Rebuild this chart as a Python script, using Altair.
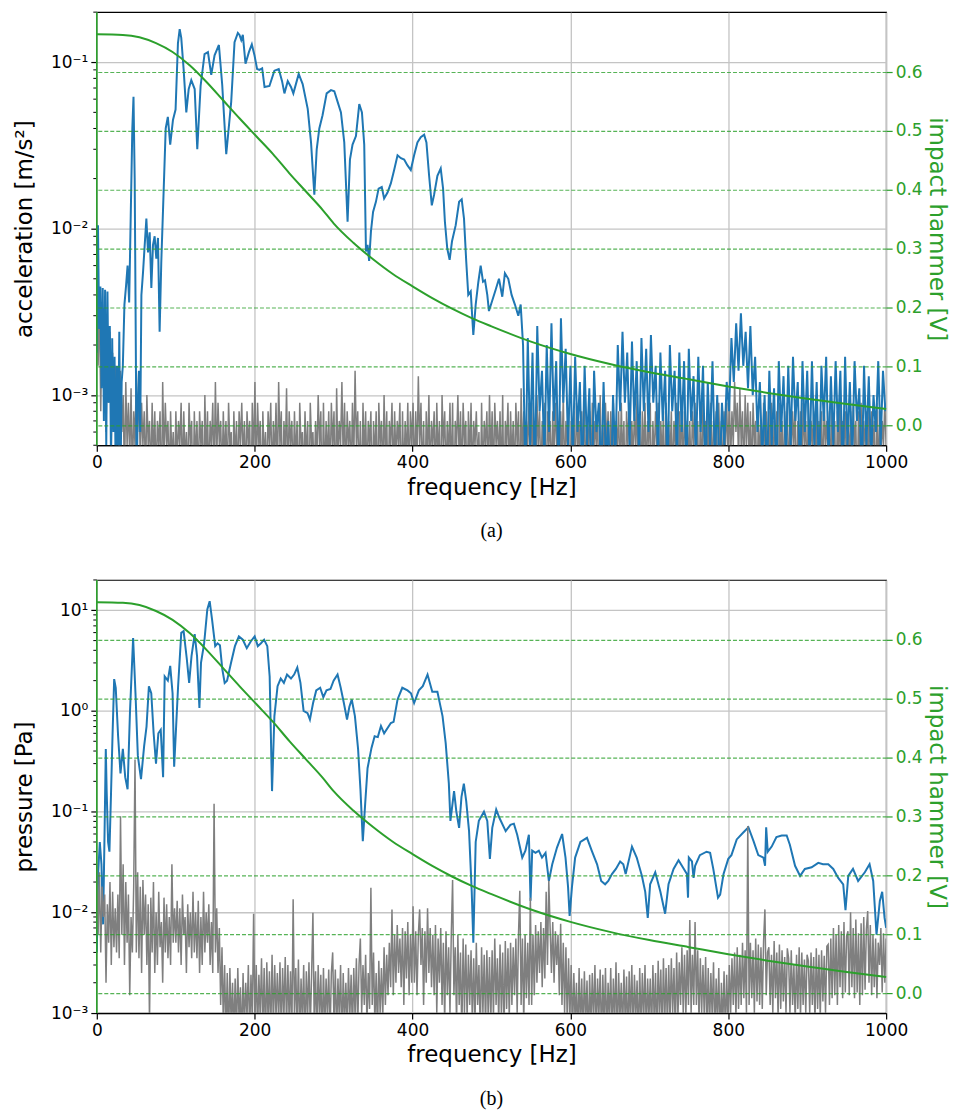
import altair as alt
import numpy as np
import pandas as pd

# ---------------- impact hammer excitation spectrum [V] ----------------
hammer = [(0, 0.664), (33, 0.663), (54, 0.659), (75, 0.649), (96, 0.634), (118, 0.611),
          (139, 0.583), (160, 0.552), (181, 0.521), (202, 0.491), (223, 0.461), (244, 0.428),
          (265, 0.397), (286, 0.366), (300, 0.343), (325, 0.310), (350, 0.282), (375, 0.257),
          (400, 0.236), (425, 0.216), (450, 0.198), (475, 0.182), (500, 0.168), (550, 0.142),
          (600, 0.121), (650, 0.104), (700, 0.090), (750, 0.078), (800, 0.066), (850, 0.055),
          (900, 0.045), (950, 0.036), (1000, 0.0275)]

# ---------------- (a) accelerometer response [m/s^2] ----------------
acc_peaks = [
    (0, 0.0018), (1.5, 0.0105), (3, 0.0025), (4.5, 0.0045), (6, 0.0011), (7.5, 0.0044),
    (9, 0.0007), (10.5, 0.0043), (12, 0.0005), (13.5, 0.0042), (15, 0.0009), (16.5, 0.0026),
    (18, 0.0004), (19.5, 0.0022), (21, 0.0006), (22.5, 0.0017), (24, 0.0003), (25.5, 0.0015),
    (27, 0.0004), (28.5, 0.0024), (30, 0.0003), (31.5, 0.0012), (33, 0.0015), (35, 0.0035),
    (37, 0.0045), (39, 0.006), (41, 0.0036), (43, 0.012), (45, 0.04), (46.5, 0.062),
    (48, 0.02), (49, 0.004), (50.5, 0.0003), (52, 0.0009), (53.5, 0.0014), (55, 0.0006),
    (56.5, 0.004), (58.6, 0.0055), (60.7, 0.008), (62.8, 0.0115), (64.9, 0.0072), (67, 0.0095),
    (69.1, 0.0044), (71.2, 0.008), (73.3, 0.009), (75.4, 0.0066), (77.5, 0.0088), (79.6, 0.0024),
    (81.7, 0.0063), (83.9, 0.013), (87.3, 0.04), (90, 0.047), (93, 0.032), (96.5, 0.045),
    (99.8, 0.052), (102.8, 0.13), (105, 0.158), (107, 0.14), (110, 0.091), (113.4, 0.05),
    (116.4, 0.069), (119.7, 0.078), (124, 0.069), (127.3, 0.03), (131.5, 0.072), (136.5, 0.112),
    (140.8, 0.115), (145, 0.084), (149.2, 0.11), (154.7, 0.127), (158.9, 0.073), (164, 0.028),
    (170.3, 0.058), (174.5, 0.132), (178.7, 0.15), (180.8, 0.146), (183, 0.136), (185, 0.146),
    (188.4, 0.098), (192.7, 0.115), (196.4, 0.128), (199.8, 0.11), (203.1, 0.091), (206, 0.09),
    (209.5, 0.092), (212.5, 0.071), (218.7, 0.072), (225, 0.089), (230.5, 0.091), (234.7, 0.077),
    (237.7, 0.065), (241.9, 0.077), (246, 0.071), (249, 0.065), (255.8, 0.085), (260.8, 0.074),
    (267.2, 0.0525), (271.4, 0.033), (275.6, 0.016), (278.6, 0.030), (281.9, 0.040), (286, 0.048),
    (291.2, 0.065), (296.7, 0.068), (300.9, 0.067), (305, 0.058), (309.3, 0.05), (313.5, 0.033),
    (317.7, 0.011), (320.7, 0.026), (324, 0.032), (328.3, 0.036), (332.5, 0.056), (335.9, 0.05),
    (338.8, 0.032), (341, 0.0073), (343, 0.008), (345, 0.0064), (347.3, 0.0096), (350, 0.0126),
    (353.6, 0.0145), (357, 0.0174), (361, 0.0178), (364, 0.0152), (368.3, 0.0165), (372.5, 0.0187),
    (376.7, 0.0225), (381, 0.0276), (385.3, 0.0265), (389.4, 0.026), (393.6, 0.024), (397.8, 0.0225),
    (402, 0.0276), (406.2, 0.033), (410.4, 0.0355), (414.7, 0.0367), (417.6, 0.033), (421, 0.0208),
    (424.4, 0.0138), (427.3, 0.016), (431.5, 0.0208), (435.7, 0.023), (438.7, 0.0174), (441, 0.011),
    (444, 0.0076), (447, 0.0065), (450, 0.0084), (454.7, 0.0105), (459, 0.0145), (462.3, 0.015),
    (465.2, 0.0115), (468, 0.0064), (470.6, 0.004), (473.7, 0.0042), (477, 0.0023), (480, 0.0035),
    (483.4, 0.0048), (486.3, 0.006), (489.3, 0.0048), (491.8, 0.0049), (494.7, 0.004), (496.8, 0.0032),
    (501, 0.0037), (505.3, 0.0043), (509.5, 0.005), (513.7, 0.0039), (517, 0.0054), (521.3, 0.005),
    (525.5, 0.004), (529.7, 0.0035), (534, 0.003), (537, 0.0035), (540, 0.002), (543, 0.0003),
]
# 546 ... 999 Hz in 3 Hz bins, units of 1e-4 m/s^2
acc_tail_start, acc_tail_step = 546, 3
acc_tail = [
    22, 5, 18, 3, 26, 8, 14, 4, 20, 6,
    27, 7, 16, 3, 29, 9, 19, 5, 15, 4,
    17, 6, 12, 3, 15, 5, 11, 2, 14, 6,
    9, 3, 12, 4, 7, 2, 10, 4, 20, 8,
    24, 9, 18, 5, 21, 7, 16, 4, 22, 8,
    19, 6, 23, 9, 15, 4, 18, 7, 14, 3,
    20, 8, 14, 4, 18, 6, 16, 3, 19, 7,
    13, 4, 17, 6, 15, 3, 12, 5, 16, 4,
    10, 3, 9, 5, 12, 8, 22, 12, 27, 14,
    31, 15, 24, 11, 26, 10, 17, 6, 12, 4,
    10, 3, 14, 5, 11, 3, 16, 6, 13, 4,
    15, 5, 17, 7, 12, 3, 16, 6, 14, 4,
    16, 5, 12, 3, 15, 7, 17, 4, 13, 5,
    16, 6, 14, 3, 17, 5, 12, 4, 16, 7,
    11, 3, 15, 5, 13, 4, 10, 6, 16, 5,
    14, 8,
]
# background noise, 600 bins over 0-1000 Hz (one row = 25 Hz), units of 1e-4 m/s^2
acc_noise = [
    42, 15, 35, 8, 30, 12, 26, 6, 20, 9, 24, 5, 18, 7, 15,
    5, 13, 4, 14, 6, 10, 3, 12, 5, 9, 4, 11, 3, 8, 5,
    14, 6, 11, 4, 9, 5, 8, 3, 10, 5, 7, 3, 9, 4, 8,
    3, 7, 5, 8, 2, 12, 4, 9, 5, 7, 3, 8, 4, 6, 3,
    8, 4, 7, 5, 9, 3, 8, 4, 6, 3, 9, 5, 7, 2, 8,
    4, 7, 3, 8, 5, 7, 2, 10, 4, 8, 3, 7, 5, 9, 3,
    12, 4, 9, 5, 7, 3, 8, 4, 7, 3, 9, 5, 6, 2, 8,
    4, 7, 3, 8, 5, 9, 4, 7, 3, 8, 5, 7, 2, 9, 4,
    12, 3, 9, 5, 7, 2, 8, 4, 6, 3, 8, 5, 9, 3, 7,
    4, 9, 3, 12, 5, 8, 2, 7, 4, 11, 3, 8, 5, 7, 3,
    8, 4, 7, 2, 9, 5, 6, 3, 8, 4, 7, 2, 9, 5, 6,
    3, 7, 4, 10, 5, 8, 2, 9, 3, 7, 4, 8, 3, 9, 5,
    8, 2, 11, 4, 7, 5, 12, 4, 9, 3, 8, 5, 7, 3, 9,
    4, 14, 5, 8, 3, 7, 2, 9, 4, 8, 3, 7, 5, 8, 2,
    7, 4, 8, 2, 9, 5, 7, 3, 10, 4, 8, 2, 7, 5, 9,
    3, 8, 4, 7, 5, 9, 2, 8, 3, 7, 4, 9, 3, 8, 5,
    9, 3, 8, 4, 13, 5, 9, 3, 7, 2, 8, 4, 10, 3, 7,
    5, 8, 3, 9, 4, 7, 2, 10, 5, 8, 3, 7, 4, 9, 3,
    9, 2, 7, 5, 10, 4, 8, 3, 9, 5, 7, 2, 8, 4, 9,
    3, 7, 5, 8, 4, 6, 2, 9, 3, 7, 5, 8, 3, 10, 4,
    8, 3, 9, 5, 7, 4, 8, 3, 10, 2, 7, 5, 9, 3, 8,
    4, 7, 3, 9, 5, 8, 2, 11, 4, 8, 3, 7, 5, 9, 3,
    9, 4, 7, 2, 10, 5, 8, 3, 7, 4, 9, 2, 8, 5, 7,
    3, 8, 4, 9, 5, 7, 2, 8, 4, 10, 3, 7, 5, 8, 2,
    7, 4, 8, 3, 9, 5, 7, 2, 8, 4, 9, 3, 7, 5, 8,
    3, 9, 4, 7, 5, 8, 2, 10, 3, 7, 4, 9, 5, 8, 3,
    8, 4, 9, 2, 7, 5, 8, 3, 9, 4, 7, 2, 8, 5, 9,
    3, 7, 4, 8, 5, 10, 2, 7, 3, 8, 4, 9, 3, 7, 5,
    9, 2, 7, 4, 8, 5, 9, 3, 7, 4, 8, 2, 9, 5, 7,
    4, 8, 3, 7, 5, 9, 2, 8, 4, 10, 3, 8, 5, 7, 4,
    7, 3, 8, 5, 9, 4, 7, 2, 8, 3, 9, 5, 7, 3, 8,
    4, 9, 3, 7, 5, 8, 2, 9, 4, 7, 3, 8, 5, 9, 4,
    10, 4, 8, 5, 12, 6, 9, 4, 11, 5, 8, 3, 10, 5, 9,
    4, 8, 3, 9, 5, 7, 2, 8, 4, 7, 3, 9, 5, 8, 3,
    8, 4, 9, 3, 7, 5, 8, 2, 9, 4, 7, 3, 8, 5, 9,
    3, 7, 4, 8, 5, 9, 2, 7, 4, 8, 3, 9, 5, 7, 3,
    9, 3, 7, 5, 8, 4, 10, 2, 7, 4, 8, 3, 9, 5, 7,
    4, 8, 3, 9, 5, 7, 2, 8, 4, 9, 3, 7, 5, 8, 3,
    7, 4, 8, 3, 9, 5, 7, 2, 8, 4, 9, 3, 7, 5, 8,
    3, 9, 4, 8, 5, 7, 2, 9, 3, 8, 4, 7, 5, 9, 5,
]

# ---------------- (b) microphone response [Pa] ----------------
pres_peaks = [
    (0, 0.004), (1.7, 0.024), (3.8, 0.05), (5.9, 0.03), (8, 0.0076), (10, 0.075), (11.4, 0.42),
    (12.5, 0.16), (14.3, 0.05), (16, 0.04), (18, 0.15), (20, 0.6), (22, 2.07), (24, 1.7),
    (27, 0.56), (30, 0.24), (33, 0.42), (36, 0.22), (39, 0.167), (42, 0.96), (46, 5.3),
    (49, 1.5), (52, 0.36), (56, 0.21), (60, 0.45), (63, 0.7), (66, 1.76), (69, 1.5), (72, 0.6),
    (75, 0.3), (78, 0.6), (81, 0.65), (84, 0.22), (86, 2.2), (90, 2.0), (93, 2.8), (96, 1.5),
    (98, 0.28), (103, 1.76), (107, 5.96), (110, 6.2), (114, 3.3), (117, 1.9), (120, 3.5),
    (124, 5.8), (127, 3.5), (130, 1.07), (132, 3.0), (136, 4.7), (140, 10.2), (143, 12.3),
    (146, 8.1), (150, 4.4), (153, 4.7), (156, 4.5), (159, 2.6), (162, 1.9), (165, 2.0),
    (170, 3.0), (175, 4.4), (180, 5.5), (185, 5.1), (190, 4.2), (195, 4.9), (200, 5.5),
    (204, 4.4), (208, 4.7), (212, 5.1), (216, 4.4), (219, 2.2), (222, 0.16), (225, 0.89),
    (229, 1.76), (233, 2.1), (237, 1.9), (241, 2.3), (246, 2.1), (250, 2.3), (254, 2.7),
    (258, 1.9), (262, 1.0), (267, 0.95), (270, 0.82), (274, 1.2), (278, 1.6), (283, 1.7),
    (287, 1.37), (291, 1.6), (296, 1.65), (300, 2.0), (305, 2.3), (309, 1.7), (313, 1.2),
    (317, 0.82), (320, 1.1), (323, 1.3), (327, 0.89), (331, 0.42), (334, 0.167), (337, 0.051),
    (340, 0.12), (343, 0.27), (348, 0.43), (352, 0.56), (356, 0.55), (360, 0.71), (364, 0.6),
    (372.5, 0.76), (376, 0.78), (381, 1.3), (387, 1.7), (393.6, 1.6), (398, 1.5), (402, 1.2),
    (408, 1.6), (413, 1.76), (419, 2.3), (425, 1.55), (431.5, 1.55), (438, 0.89), (442, 0.48),
    (446, 0.19), (448, 0.081), (452.6, 0.16), (455.5, 0.1), (459, 0.069), (462, 0.14),
    (465, 0.19), (468, 0.127), (471.6, 0.064), (475, 0.016), (477, 0.005), (480, 0.05),
    (484, 0.081), (490.5, 0.1), (494.7, 0.081), (498, 0.034), (501, 0.069), (506, 0.105),
    (510, 0.087), (518, 0.064), (524, 0.074), (528.4, 0.076), (532.6, 0.059), (539, 0.035),
    (543, 0.041), (547.4, 0.059), (549.5, 0.013), (551.6, 0.041), (555.8, 0.039), (560, 0.041),
    (564, 0.035), (568.5, 0.039), (572.7, 0.0205), (577, 0.03), (583, 0.044), (589.5, 0.06),
    (593.8, 0.035), (597, 0.018), (599, 0.0092), (602, 0.018), (606, 0.035), (612.7, 0.05),
    (621, 0.055), (627, 0.041), (633.8, 0.03), (639, 0.0205), (644, 0.019), (648, 0.0205),
    (652.6, 0.024), (657.6, 0.027), (663, 0.032), (667, 0.03), (670, 0.024), (678, 0.045),
    (684, 0.035), (690.6, 0.023), (694.8, 0.016), (698, 0.0088), (701, 0.019), (707.5, 0.025),
    (714, 0.016), (720, 0.0097), (724.3, 0.019), (730.7, 0.027), (737, 0.033), (747.6, 0.024),
    (749, 0.014), (750, 0.035), (754, 0.032), (756, 0.022), (758, 0.029), (764, 0.037),
    (772.5, 0.04), (777, 0.039), (781, 0.027), (787, 0.014), (789.7, 0.015), (794, 0.024),
    (800, 0.034), (804, 0.037), (810.7, 0.053), (819, 0.062), (825.5, 0.07), (832, 0.051),
    (838, 0.037), (844.5, 0.035), (846.6, 0.029), (848, 0.07), (850, 0.04), (855, 0.045),
    (861, 0.056), (867.7, 0.058), (874, 0.058), (878, 0.047), (884.6, 0.029), (891, 0.023),
    (897, 0.027), (905.6, 0.028), (914, 0.031), (920, 0.03), (926.7, 0.03), (933, 0.027),
    (939.3, 0.022), (945.6, 0.019), (948.5, 0.0105), (952, 0.023), (958, 0.027), (964.5, 0.0205),
    (973, 0.025), (979, 0.03), (983.6, 0.0205), (987.8, 0.006), (992, 0.013), (995, 0.016),
    (998, 0.0088), (1000, 0.007),
]
# background noise, 600 bins over 0-1000 Hz (one row = 25 Hz), units of 1e-4 Pa
pres_noise = [
    300, 60, 250, 40, 180, 90, 150, 20, 120, 50, 200, 30, 160, 45, 110,
    40, 150, 35, 900, 60, 300, 30, 200, 50, 150, 15, 90, 40, 180, 3300,
    40, 250, 35, 180, 25, 210, 60, 150, 30, 120, 8, 140, 40, 200, 25,
    100, 30, 160, 45, 80, 20, 140, 40, 120, 35, 90, 30, 300, 50, 110,
    50, 130, 40, 110, 30, 150, 60, 90, 25, 120, 45, 100, 35, 160, 40,
    100, 35, 130, 25, 90, 30, 160, 40, 100, 50, 120, 30, 80, 25, 1200,
    40, 110, 25, 70, 12, 45, 8, 30, 6, 25, 5, 28, 7, 20, 6,
    22, 6, 28, 8, 18, 5, 25, 7, 20, 9, 30, 6, 24, 8, 97,
    8, 30, 6, 24, 9, 35, 7, 28, 5, 32, 8, 26, 6, 38, 7,
    30, 9, 25, 8, 32, 6, 28, 9, 36, 7, 30, 8, 26, 6, 135,
    9, 28, 7, 34, 6, 22, 8, 30, 5, 26, 9, 32, 7, 24, 99,
    8, 26, 6, 30, 9, 24, 5, 28, 7, 22, 9, 27, 6, 25, 40,
    8, 27, 6, 22, 9, 30, 5, 25, 8, 20, 7, 28, 9, 24, 6,
    28, 9, 35, 7, 30, 55, 10, 30, 12, 38, 8, 25, 11, 175, 12,
    40, 8, 25, 6, 33, 10, 28, 9, 45, 12, 38, 15, 50, 18, 107,
    15, 60, 20, 75, 25, 55, 18, 70, 12, 65, 22, 80, 15, 60, 20,
    115, 20, 65, 15, 60, 107, 30, 70, 12, 65, 20, 110, 25, 70, 18,
    60, 15, 75, 10, 55, 20, 70, 12, 50, 8, 65, 15, 45, 10, 60,
    210, 15, 45, 8, 60, 12, 40, 6, 55, 10, 48, 9, 38, 12, 42,
    8, 35, 8, 50, 12, 30, 6, 45, 10, 38, 7, 42, 9, 36, 8,
    42, 9, 55, 12, 35, 8, 48, 10, 40, 6, 52, 11, 44, 9, 50,
    12, 45, 15, 55, 10, 60, 164, 12, 55, 8, 60, 14, 50, 12, 140,
    12, 60, 15, 75, 20, 65, 25, 80, 18, 70, 22, 160, 30, 206, 70,
    25, 80, 20, 65, 30, 60, 15, 77, 12, 50, 10, 45, 8, 35, 9,
    30, 6, 25, 8, 20, 5, 28, 7, 22, 6, 26, 8, 21, 5, 24,
    7, 25, 8, 30, 6, 22, 9, 27, 5, 24, 7, 28, 6, 20, 8,
    28, 6, 22, 8, 32, 5, 25, 9, 20, 6, 27, 8, 23, 5, 26,
    8, 30, 6, 24, 9, 21, 5, 28, 7, 25, 8, 30, 6, 22, 9,
    22, 6, 30, 8, 25, 5, 33, 9, 27, 6, 35, 8, 28, 7, 30,
    8, 35, 10, 28, 6, 40, 9, 32, 12, 45, 10, 38, 9, 42, 12,
    84, 10, 38, 12, 80, 12, 42, 8, 35, 10, 30, 9, 36, 7, 28,
    7, 25, 9, 32, 6, 22, 8, 28, 5, 20, 7, 26, 6, 24, 8,
    30, 10, 35, 12, 40, 9, 45, 11, 38, 12, 50, 14, 42, 10, 720,
    12, 50, 14, 42, 10, 55, 13, 48, 12, 45, 11, 52, 107, 15, 40,
    45, 12, 38, 10, 52, 14, 40, 9, 48, 11, 42, 13, 36, 10, 44,
    35, 10, 42, 12, 30, 8, 38, 11, 45, 9, 40, 12, 34, 10, 38,
    33, 10, 40, 12, 36, 8, 44, 11, 38, 9, 42, 13, 37, 10, 46,
    48, 12, 55, 14, 70, 15, 60, 12, 75, 18, 65, 14, 80, 16, 58,
    65, 15, 100, 18, 70, 14, 85, 16, 62, 12, 78, 15, 90, 17, 68,
    103, 20, 75, 15, 60, 18, 55, 14, 50, 30, 70, 16, 62, 20, 55,
]

# ---------------- styling ----------------
FONT = "DejaVu Sans"
BLUE, GRAY, GREEN = "#1f77b4", "#7f7f7f", "#2ca02c"
GRID = "#c4c4c4"
W, H = 791, 434
LABEL_SIZE, TITLE_SIZE = 17, 23
SUP = {-3: "10⁻³", -2: "10⁻²", -1: "10⁻¹", 0: "10⁰", 1: "10¹"}
# right-hand scale: 59 px per 0.1 V, zero 20 px above the bottom edge
HAMMER_DOMAIN = [-20 / 590, (H - 20) / 590]


def frame(pairs):
    return pd.DataFrame(pairs, columns=["f", "v"])


def binned(values, scale, start=None, step=None):
    v = np.asarray(values, dtype=float) * scale
    if start is None:
        f = np.linspace(0, 1000, len(v))
    else:
        f = start + step * np.arange(len(v))
    return pd.DataFrame({"f": f, "v": v})


x_enc = alt.X(
    "f:Q",
    scale=alt.Scale(domain=[0, 1000], nice=False, zero=False),
    axis=alt.Axis(
        title="frequency [Hz]", values=[0, 200, 400, 600, 800, 1000], format="d",
        grid=True, gridColor=GRID, gridWidth=1.3, domainColor="black", domainWidth=1.2,
        tickColor="black", tickSize=6, tickWidth=1.2, labelFontSize=LABEL_SIZE,
        titleFontSize=TITLE_SIZE, labelPadding=3, titlePadding=6, labelColor="black",
        titleColor="black", titleFontWeight="normal", labelFont=FONT, titleFont=FONT,
        labelFlush=False,
    ),
)


def left_axis(title, exps):
    expr = "''"
    for e in sorted(exps, reverse=True):
        expr = f"round(log(datum.value)/LN10) == {e} ? '{SUP[e]}' : ({expr})"
    return alt.Axis(
        title=title, values=[10.0 ** e for e in exps], labelExpr=expr,
        grid=True, gridColor=GRID, gridWidth=1.3, domain=False,
        tickColor="black", tickSize=6, tickWidth=1.2, labelFontSize=LABEL_SIZE,
        titleFontSize=TITLE_SIZE, labelPadding=3, titlePadding=14, labelColor="black",
        titleColor="black", titleFontWeight="normal", labelFont=FONT, titleFont=FONT,
    )


right_axis = alt.Axis(
    orient="right", title="impact hammer [V]", values=[0, 0.1, 0.2, 0.3, 0.4, 0.5, 0.6],
    format=".1f", grid=True, gridColor=GREEN, gridDash=[4, 2], gridOpacity=0.8, gridWidth=1.2,
    domain=False, tickColor=GREEN, tickSize=6, tickWidth=1.2, labelColor=GREEN,
    titleColor=GREEN, labelFontSize=LABEL_SIZE, titleFontSize=TITLE_SIZE, labelPadding=3,
    titlePadding=2, titleFontWeight="normal", labelFont=FONT, titleFont=FONT, zindex=1,
)


def minor_ticks(lo, hi):
    exps = range(int(np.floor(np.log10(lo))), int(np.floor(np.log10(hi))) + 1)
    vals = [m * 10.0 ** e for e in exps for m in range(2, 10)]
    return pd.DataFrame({"v": [v for v in vals if lo <= v <= hi]})


def panel(peaks_df, noise_df, ydom, exps, ytitle, caption, noise_on_top):
    yscale = alt.Scale(type="log", domain=ydom, nice=False)
    y_enc = alt.Y("v:Q", scale=yscale, axis=left_axis(ytitle, exps))
    gray = alt.Chart(noise_df).mark_line(color=GRAY, strokeWidth=1.5, clip=True).encode(x=x_enc, y=y_enc)
    blue = alt.Chart(peaks_df).mark_line(color=BLUE, strokeWidth=2, clip=True).encode(x=x_enc, y=y_enc)
    ticks = alt.Chart(minor_ticks(*ydom)).mark_rule(color="black", strokeWidth=1, clip=False).encode(
        y=y_enc, x=alt.value(-3.5), x2=alt.value(0)
    )
    layers = [blue, gray] if noise_on_top else [gray, blue]
    left = alt.layer(*layers, ticks)
    green = alt.Chart(frame(hammer)).mark_line(color=GREEN, strokeWidth=2, interpolate="monotone").encode(
        x=x_enc,
        y=alt.Y("v:Q", scale=alt.Scale(domain=HAMMER_DOMAIN, nice=False, zero=False), axis=right_axis),
    )
    spine = alt.Chart(alt.Data(values=[{"k": 0}])).mark_rule(color=GREEN, strokeWidth=1.6).encode(
        x=alt.value(0), y=alt.value(0), y2=alt.value(H)
    )
    return alt.layer(left, green, spine).resolve_scale(y="independent").properties(
        width=W, height=H,
        title=alt.TitleParams(text=caption, orient="bottom", font="Liberation Serif", fontSize=20,
                              fontWeight="normal", color="black", offset=22),
    )


acc_df = pd.concat([frame(acc_peaks), binned(acc_tail, 1e-4, acc_tail_start, acc_tail_step)],
                   ignore_index=True)
chart_a = panel(acc_df, binned(acc_noise, 1e-4), [5e-4, 0.2], [-3, -2, -1],
                "acceleration [m/s²]", "(a)", noise_on_top=False)
chart_b = panel(frame(pres_peaks), binned(pres_noise, 1e-4), [1e-3, 20], [-3, -2, -1, 0, 1],
                "pressure [Pa]", "(b)", noise_on_top=True)

chart = alt.vconcat(chart_a, chart_b, spacing=36).properties(
    padding={"left": 12, "top": 9, "right": 8, "bottom": 5},
    background="white",
).configure_view(stroke="black", strokeWidth=1.2)

chart.save("out.html", embed_options={"renderer": "svg", "actions": False})
